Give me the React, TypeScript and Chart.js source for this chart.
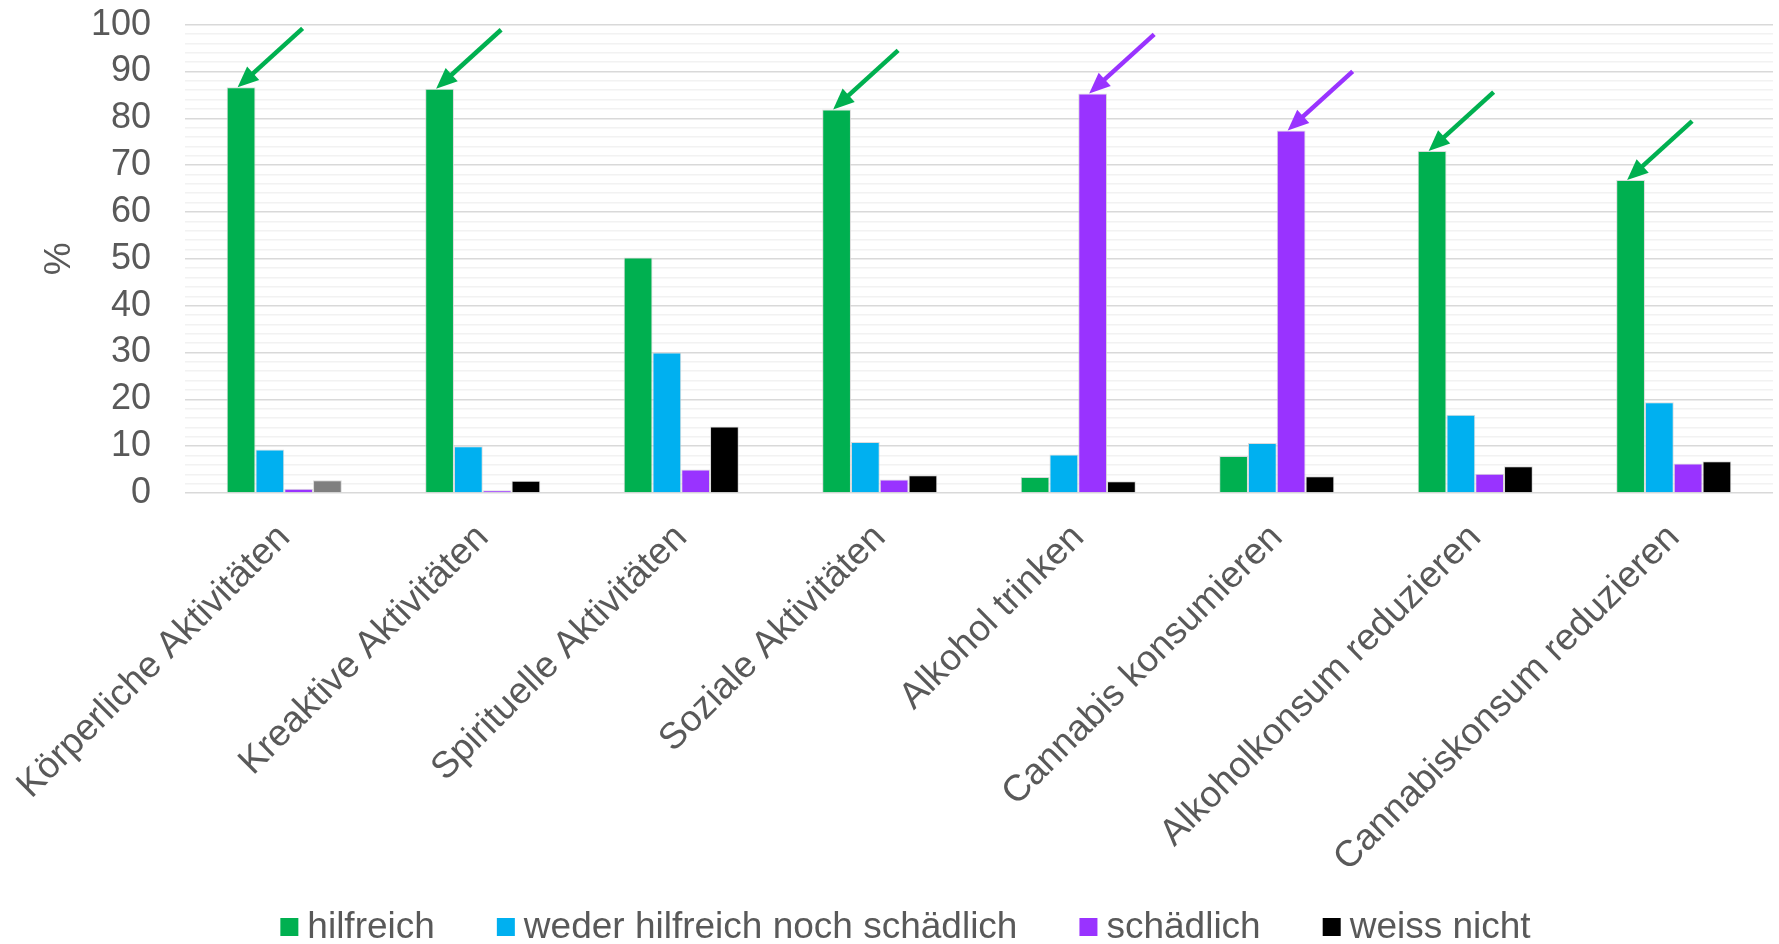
import { useEffect, useRef } from 'react';
import { Chart, registerables } from 'chart.js';

Chart.register(...registerables);

// Categories and the share (%) of answers per series
const categories = [
  'Körperliche Aktivitäten',
  'Kreaktive Aktivitäten',
  'Spirituelle Aktivitäten',
  'Soziale Aktivitäten',
  'Alkohol trinken',
  'Cannabis konsumieren',
  'Alkoholkonsum reduzieren',
  'Cannabiskonsum reduzieren',
];

const hilfreich = [86.6, 86.3, 50.3, 81.9, 3.4, 7.9, 73.0, 66.8];
const wederNoch = [9.3, 10.0, 30.0, 10.9, 8.2, 10.7, 16.7, 19.4];
const schaedlich = [0.9, 0.6, 5.0, 2.9, 85.3, 77.4, 4.1, 6.3];
const weissNicht = [2.7, 2.6, 14.2, 3.8, 2.5, 3.6, 5.7, 6.8];

const seriesLabels = ['hilfreich', 'weder hilfreich noch schädlich', 'schädlich', 'weiss nicht'];

// Which series the arrow of each category points at (-1 = no arrow)
const arrowSeries = [0, 0, -1, 0, 2, 2, 0, 0];

// Styling
const seriesColors = ['#00B050', '#00B0F0', '#9933FF', '#000000'];
const weissNichtBarColors = ['#7F7F7F', '#000000', '#000000', '#000000', '#000000', '#000000', '#000000', '#000000'];
const TEXT = '#595959';
const FONT = "'Liberation Sans', Arial, sans-serif";

const arrowPlugin = {
  id: 'barArrows',
  afterDatasetsDraw(chart: any) {
    const ctx = chart.ctx;
    arrowSeries.forEach((s, i) => {
      if (s < 0) return;
      const bar = chart.getDatasetMeta(s).data[i];
      const { x, y, width } = bar.getProps(['x', 'y', 'width'], true);
      const tipX = x - width / 2 + width * 0.38;
      const tipY = y;
      const tailX = tipX + 65;
      const tailY = tipY - 59;
      const ang = Math.atan2(tipY - tailY, tipX - tailX);
      const headLen = 21;
      const headHalf = 9;
      const cos = Math.cos(ang);
      const sin = Math.sin(ang);
      const baseX = tipX - headLen * cos;
      const baseY = tipY - headLen * sin;
      ctx.save();
      ctx.strokeStyle = seriesColors[s];
      ctx.fillStyle = seriesColors[s];
      ctx.lineWidth = 4.5;
      ctx.lineCap = 'butt';
      ctx.beginPath();
      ctx.moveTo(tailX, tailY);
      ctx.lineTo(baseX + 2 * cos, baseY + 2 * sin);
      ctx.stroke();
      ctx.beginPath();
      ctx.moveTo(tipX, tipY);
      ctx.lineTo(baseX + headHalf * sin, baseY - headHalf * cos);
      ctx.lineTo(baseX - headHalf * sin, baseY + headHalf * cos);
      ctx.closePath();
      ctx.fill();
      ctx.restore();
    });
  },
};

const legendPlugin = {
  id: 'bottomLegend',
  afterDraw(chart: any) {
    const ctx = chart.ctx;
    const box = 18;
    const gap = 9;
    const spacing = 62;
    ctx.save();
    ctx.font = `37px ${FONT}`;
    ctx.textBaseline = 'middle';
    ctx.textAlign = 'left';
    const widths = chart.data.datasets.map((d: any) => box + gap + ctx.measureText(d.label).width);
    const total = widths.reduce((a: number, b: number) => a + b, 0) + spacing * (widths.length - 1);
    let x = chart.width / 2 + 16 - total / 2;
    const cy = chart.height - 17;
    chart.data.datasets.forEach((d: any, i: number) => {
      ctx.fillStyle = seriesColors[i];
      ctx.fillRect(x, cy - box / 2, box, box);
      ctx.fillStyle = TEXT;
      ctx.fillText(d.label, x + box + gap, cy + 1);
      x += widths[i] + spacing;
    });
    ctx.restore();
  },
};

export default function App() {
  const canvasRef = useRef<HTMLCanvasElement | null>(null);

  useEffect(() => {
    if (!canvasRef.current) return;
    const values = [hilfreich, wederNoch, schaedlich, weissNicht];
    const chart = new Chart(canvasRef.current, {
      type: 'bar',
      data: {
        labels: categories,
        datasets: values.map((v, i) => ({
          label: seriesLabels[i],
          data: v,
          backgroundColor: i === 3 ? weissNichtBarColors : seriesColors[i],
          borderColor: 'rgba(210,210,210,0.8)',
          borderWidth: 1,
          categoryPercentage: 0.58,
          barPercentage: 1,
        })),
      },
      options: {
        animation: false,
        responsive: true,
        maintainAspectRatio: false,
        layout: { padding: { left: 0, right: 6, top: 24, bottom: 0 } },
        plugins: {
          legend: { display: false },
          tooltip: { enabled: false },
        },
        scales: {
          x: {
            grid: { display: false },
            border: { display: false },
            ticks: {
              color: TEXT,
              font: { family: FONT, size: 37 },
              minRotation: 45,
              maxRotation: 45,
              autoSkip: false,
              padding: 15,
            },
            afterFit: (scale: any) => {
              scale.height = 451;
              scale.paddingLeft = 0;
              scale.paddingRight = 0;
            },
          },
          y: {
            min: 0,
            max: 100,
            border: { display: false },
            grid: {
              drawTicks: true,
              tickLength: 31,
              tickColor: 'rgba(0,0,0,0)',
              lineWidth: 1.5,
              color: (c: any) => (c.tick && c.tick.value % 10 === 0 ? '#D9D9D9' : '#F2F2F2'),
            },
            ticks: {
              stepSize: 2,
              autoSkip: false,
              color: TEXT,
              font: { family: FONT, size: 36 },
              padding: 3,
              callback: (v: any) => (Number(v) % 10 === 0 ? String(v) : ''),
            },
            title: {
              display: true,
              text: '%',
              color: TEXT,
              font: { family: FONT, size: 37 },
              padding: { top: 38, bottom: 0 },
            },
            afterFit: (scale: any) => {
              scale.width = 185;
            },
          },
        },
      },
      plugins: [arrowPlugin, legendPlugin],
    });
    return () => chart.destroy();
  }, []);

  return (
    <div style={{ position: 'fixed', left: 0, top: 0, width: 1779, height: 944, background: '#fff' }}>
      <canvas ref={canvasRef} />
    </div>
  );
}
